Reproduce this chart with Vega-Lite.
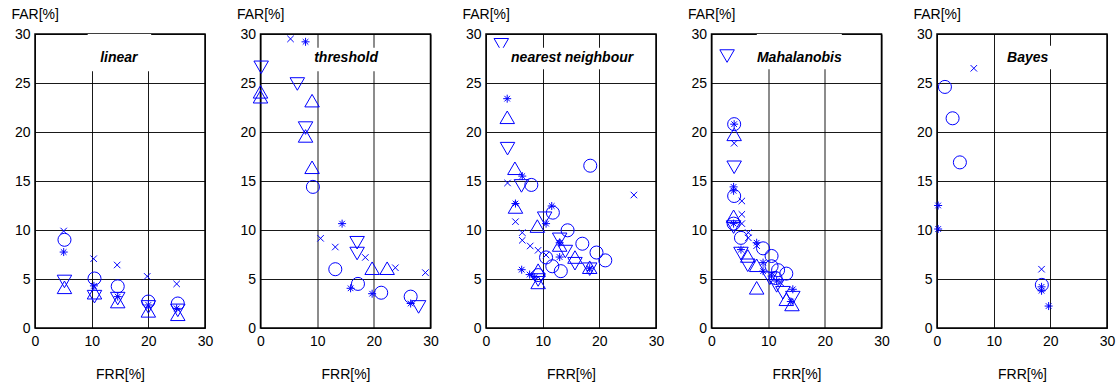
{
  "$schema": "https://vega.github.io/schema/vega-lite/v6.json",
  "background": "white",
  "padding": {"left": 10, "top": 6, "right": 0, "bottom": 5},
  "bounds": "flush",
  "spacing": 55.5,
  "config": {
    "font": "Liberation Sans",
    "view": {"stroke": "#000", "strokeWidth": 1.5},
    "axis": {"grid": true, "gridColor": "#000", "gridWidth": 1, "gridOpacity": 0.9, "domain": false, "ticks": false,
      "labelFont": "Liberation Sans", "labelFontSize": 14, "labelColor": "#000", "labelFlush": false, "labelOverlap": false,
      "titleFont": "Liberation Sans", "titleFontSize": 14, "titleFontWeight": "normal", "titleColor": "#000"},
    "axisX": {"labelPadding": 6, "titleY": 46, "titleBaseline": "middle"},
    "axisY": {"labelPadding": 5, "titleAngle": 0, "titleAlign": "left", "titleBaseline": "middle", "titleX": -24, "titleY": -20}
  },
  "datasets": {
    "pts": [
      {"p": "linear", "m": "x", "x": 5.06, "y": 9.9},
      {"p": "linear", "m": "x", "x": 10.35, "y": 7.07},
      {"p": "linear", "m": "x", "x": 14.5, "y": 6.43},
      {"p": "linear", "m": "x", "x": 19.8, "y": 5.27},
      {"p": "linear", "m": "x", "x": 25.0, "y": 4.5},
      {"p": "linear", "m": "o", "x": 5.2, "y": 9.0},
      {"p": "linear", "m": "o", "x": 10.5, "y": 5.05},
      {"p": "linear", "m": "o", "x": 14.6, "y": 4.25},
      {"p": "linear", "m": "o", "x": 20.0, "y": 2.7},
      {"p": "linear", "m": "o", "x": 25.2, "y": 2.5},
      {"p": "linear", "m": "s", "x": 5.06, "y": 7.75},
      {"p": "linear", "m": "s", "x": 10.4, "y": 4.3},
      {"p": "linear", "m": "s", "x": 14.6, "y": 3.2},
      {"p": "linear", "m": "s", "x": 20.0, "y": 2.35},
      {"p": "linear", "m": "s", "x": 25.0, "y": 2.0},
      {"p": "linear", "m": "d", "x": 5.2, "y": 4.75},
      {"p": "linear", "m": "d", "x": 10.5, "y": 3.2},
      {"p": "linear", "m": "d", "x": 14.6, "y": 3.0},
      {"p": "linear", "m": "d", "x": 20.0, "y": 2.15},
      {"p": "linear", "m": "d", "x": 25.2, "y": 1.8},
      {"p": "linear", "m": "u", "x": 5.2, "y": 4.15},
      {"p": "linear", "m": "u", "x": 10.5, "y": 3.6},
      {"p": "linear", "m": "u", "x": 14.6, "y": 2.7},
      {"p": "linear", "m": "u", "x": 20.0, "y": 1.75},
      {"p": "linear", "m": "u", "x": 25.2, "y": 1.4},

      {"p": "threshold", "m": "x", "x": 5.3, "y": 29.5},
      {"p": "threshold", "m": "x", "x": 10.6, "y": 9.15},
      {"p": "threshold", "m": "x", "x": 13.2, "y": 8.26},
      {"p": "threshold", "m": "x", "x": 18.5, "y": 7.2},
      {"p": "threshold", "m": "x", "x": 23.8, "y": 6.15},
      {"p": "threshold", "m": "x", "x": 29.1, "y": 5.65},
      {"p": "threshold", "m": "s", "x": 7.95, "y": 29.2},
      {"p": "threshold", "m": "s", "x": 14.4, "y": 10.65},
      {"p": "threshold", "m": "s", "x": 15.9, "y": 4.05},
      {"p": "threshold", "m": "s", "x": 19.7, "y": 3.5},
      {"p": "threshold", "m": "s", "x": 26.5, "y": 2.5},
      {"p": "threshold", "m": "d", "x": 0.12, "y": 26.6},
      {"p": "threshold", "m": "d", "x": 6.5, "y": 24.9},
      {"p": "threshold", "m": "d", "x": 7.95, "y": 20.4},
      {"p": "threshold", "m": "d", "x": 17.05, "y": 8.7},
      {"p": "threshold", "m": "d", "x": 17.05, "y": 7.6},
      {"p": "threshold", "m": "d", "x": 27.9, "y": 2.15},
      {"p": "threshold", "m": "u", "x": 0.0, "y": 24.1},
      {"p": "threshold", "m": "u", "x": 0.0, "y": 23.6},
      {"p": "threshold", "m": "u", "x": 9.1, "y": 23.2},
      {"p": "threshold", "m": "u", "x": 7.95, "y": 19.6},
      {"p": "threshold", "m": "u", "x": 9.1, "y": 16.4},
      {"p": "threshold", "m": "u", "x": 19.7, "y": 6.1},
      {"p": "threshold", "m": "u", "x": 22.35, "y": 6.1},
      {"p": "threshold", "m": "o", "x": 9.25, "y": 14.4},
      {"p": "threshold", "m": "o", "x": 13.2, "y": 6.0},
      {"p": "threshold", "m": "o", "x": 17.2, "y": 4.5},
      {"p": "threshold", "m": "o", "x": 21.3, "y": 3.6},
      {"p": "threshold", "m": "o", "x": 26.5, "y": 3.2},

      {"p": "nearest neighbour", "m": "d", "x": 2.7, "y": 28.9},
      {"p": "nearest neighbour", "m": "d", "x": 3.8, "y": 18.3},
      {"p": "nearest neighbour", "m": "d", "x": 6.26, "y": 14.5},
      {"p": "nearest neighbour", "m": "d", "x": 10.35, "y": 11.2},
      {"p": "nearest neighbour", "m": "d", "x": 13.0, "y": 9.05},
      {"p": "nearest neighbour", "m": "d", "x": 14.0, "y": 7.8},
      {"p": "nearest neighbour", "m": "d", "x": 15.7, "y": 6.56},
      {"p": "nearest neighbour", "m": "d", "x": 18.3, "y": 6.0},
      {"p": "nearest neighbour", "m": "d", "x": 9.2, "y": 4.9},
      {"p": "nearest neighbour", "m": "u", "x": 3.75, "y": 21.5},
      {"p": "nearest neighbour", "m": "u", "x": 5.1, "y": 16.3},
      {"p": "nearest neighbour", "m": "u", "x": 5.2, "y": 12.35},
      {"p": "nearest neighbour", "m": "u", "x": 9.06, "y": 10.4},
      {"p": "nearest neighbour", "m": "u", "x": 13.0, "y": 8.47},
      {"p": "nearest neighbour", "m": "u", "x": 15.7, "y": 7.24},
      {"p": "nearest neighbour", "m": "u", "x": 18.3, "y": 6.2},
      {"p": "nearest neighbour", "m": "u", "x": 9.2, "y": 5.9},
      {"p": "nearest neighbour", "m": "u", "x": 9.2, "y": 4.65},
      {"p": "nearest neighbour", "m": "s", "x": 3.74, "y": 23.4},
      {"p": "nearest neighbour", "m": "s", "x": 6.4, "y": 15.5},
      {"p": "nearest neighbour", "m": "s", "x": 5.2, "y": 12.7},
      {"p": "nearest neighbour", "m": "s", "x": 11.6, "y": 12.45},
      {"p": "nearest neighbour", "m": "s", "x": 10.6, "y": 10.65},
      {"p": "nearest neighbour", "m": "s", "x": 13.0, "y": 8.7},
      {"p": "nearest neighbour", "m": "s", "x": 13.0, "y": 7.24},
      {"p": "nearest neighbour", "m": "s", "x": 18.3, "y": 6.1},
      {"p": "nearest neighbour", "m": "s", "x": 6.3, "y": 5.95},
      {"p": "nearest neighbour", "m": "s", "x": 7.7, "y": 5.45},
      {"p": "nearest neighbour", "m": "s", "x": 8.6, "y": 5.2},
      {"p": "nearest neighbour", "m": "x", "x": 3.8, "y": 14.8},
      {"p": "nearest neighbour", "m": "x", "x": 26.1, "y": 13.57},
      {"p": "nearest neighbour", "m": "x", "x": 5.2, "y": 10.85},
      {"p": "nearest neighbour", "m": "x", "x": 6.4, "y": 9.73},
      {"p": "nearest neighbour", "m": "x", "x": 6.4, "y": 8.95},
      {"p": "nearest neighbour", "m": "x", "x": 7.8, "y": 8.37},
      {"p": "nearest neighbour", "m": "x", "x": 9.2, "y": 7.93},
      {"p": "nearest neighbour", "m": "x", "x": 10.6, "y": 7.45},
      {"p": "nearest neighbour", "m": "x", "x": 18.3, "y": 6.0},
      {"p": "nearest neighbour", "m": "o", "x": 8.0, "y": 14.6},
      {"p": "nearest neighbour", "m": "o", "x": 18.4, "y": 16.56},
      {"p": "nearest neighbour", "m": "o", "x": 11.8, "y": 11.77},
      {"p": "nearest neighbour", "m": "o", "x": 14.4, "y": 9.97},
      {"p": "nearest neighbour", "m": "o", "x": 17.0, "y": 8.6},
      {"p": "nearest neighbour", "m": "o", "x": 19.5, "y": 7.7},
      {"p": "nearest neighbour", "m": "o", "x": 21.05, "y": 6.9},
      {"p": "nearest neighbour", "m": "o", "x": 10.6, "y": 7.2},
      {"p": "nearest neighbour", "m": "o", "x": 11.7, "y": 6.3},
      {"p": "nearest neighbour", "m": "o", "x": 13.2, "y": 5.8},
      {"p": "nearest neighbour", "m": "o", "x": 9.2, "y": 5.4},

      {"p": "Mahalanobis", "m": "d", "x": 2.75, "y": 27.75},
      {"p": "Mahalanobis", "m": "d", "x": 4.0, "y": 16.4},
      {"p": "Mahalanobis", "m": "d", "x": 3.9, "y": 10.3},
      {"p": "Mahalanobis", "m": "d", "x": 5.2, "y": 7.6},
      {"p": "Mahalanobis", "m": "d", "x": 6.4, "y": 6.4},
      {"p": "Mahalanobis", "m": "d", "x": 10.3, "y": 5.07},
      {"p": "Mahalanobis", "m": "d", "x": 11.5, "y": 4.3},
      {"p": "Mahalanobis", "m": "d", "x": 12.6, "y": 3.6},
      {"p": "Mahalanobis", "m": "d", "x": 14.35, "y": 3.1},
      {"p": "Mahalanobis", "m": "u", "x": 4.0, "y": 19.76},
      {"p": "Mahalanobis", "m": "u", "x": 3.9, "y": 11.4},
      {"p": "Mahalanobis", "m": "u", "x": 6.4, "y": 7.35},
      {"p": "Mahalanobis", "m": "u", "x": 7.97, "y": 6.4},
      {"p": "Mahalanobis", "m": "u", "x": 7.97, "y": 4.1},
      {"p": "Mahalanobis", "m": "u", "x": 13.2, "y": 2.93},
      {"p": "Mahalanobis", "m": "u", "x": 14.2, "y": 2.4},
      {"p": "Mahalanobis", "m": "o", "x": 4.0, "y": 20.8},
      {"p": "Mahalanobis", "m": "o", "x": 4.0, "y": 13.47},
      {"p": "Mahalanobis", "m": "o", "x": 3.9, "y": 10.65},
      {"p": "Mahalanobis", "m": "o", "x": 5.2, "y": 9.2},
      {"p": "Mahalanobis", "m": "o", "x": 9.1, "y": 8.13},
      {"p": "Mahalanobis", "m": "o", "x": 10.6, "y": 7.35},
      {"p": "Mahalanobis", "m": "o", "x": 10.6, "y": 6.3},
      {"p": "Mahalanobis", "m": "o", "x": 11.75, "y": 5.9},
      {"p": "Mahalanobis", "m": "o", "x": 13.2, "y": 5.55},
      {"p": "Mahalanobis", "m": "o", "x": 11.3, "y": 5.1},
      {"p": "Mahalanobis", "m": "s", "x": 4.0, "y": 20.8},
      {"p": "Mahalanobis", "m": "s", "x": 3.9, "y": 14.4},
      {"p": "Mahalanobis", "m": "s", "x": 3.9, "y": 14.0},
      {"p": "Mahalanobis", "m": "s", "x": 3.9, "y": 10.65},
      {"p": "Mahalanobis", "m": "s", "x": 5.2, "y": 8.0},
      {"p": "Mahalanobis", "m": "s", "x": 7.97, "y": 8.7},
      {"p": "Mahalanobis", "m": "s", "x": 9.1, "y": 6.67},
      {"p": "Mahalanobis", "m": "s", "x": 9.1, "y": 5.8},
      {"p": "Mahalanobis", "m": "s", "x": 10.6, "y": 5.3},
      {"p": "Mahalanobis", "m": "s", "x": 11.5, "y": 4.8},
      {"p": "Mahalanobis", "m": "s", "x": 14.35, "y": 3.95},
      {"p": "Mahalanobis", "m": "s", "x": 14.0, "y": 2.7},
      {"p": "Mahalanobis", "m": "x", "x": 4.0, "y": 18.85},
      {"p": "Mahalanobis", "m": "x", "x": 5.35, "y": 12.96},
      {"p": "Mahalanobis", "m": "x", "x": 5.35, "y": 11.6},
      {"p": "Mahalanobis", "m": "x", "x": 5.35, "y": 10.65},
      {"p": "Mahalanobis", "m": "x", "x": 6.5, "y": 9.73},
      {"p": "Mahalanobis", "m": "x", "x": 6.5, "y": 9.2},
      {"p": "Mahalanobis", "m": "x", "x": 7.97, "y": 8.4},
      {"p": "Mahalanobis", "m": "x", "x": 12.2, "y": 4.6},

      {"p": "Bayes", "m": "x", "x": 6.5, "y": 26.5},
      {"p": "Bayes", "m": "x", "x": 18.45, "y": 6.0},
      {"p": "Bayes", "m": "o", "x": 1.4, "y": 24.6},
      {"p": "Bayes", "m": "o", "x": 2.75, "y": 21.4},
      {"p": "Bayes", "m": "o", "x": 4.04, "y": 16.9},
      {"p": "Bayes", "m": "o", "x": 18.5, "y": 4.4},
      {"p": "Bayes", "m": "s", "x": 0.2, "y": 12.5},
      {"p": "Bayes", "m": "s", "x": 0.2, "y": 10.1},
      {"p": "Bayes", "m": "s", "x": 18.45, "y": 4.2},
      {"p": "Bayes", "m": "s", "x": 18.45, "y": 3.8},
      {"p": "Bayes", "m": "s", "x": 19.7, "y": 2.24}
    ]
  },
  "hconcat": [
    {
      "width": 170, "height": 294,
      "layer": [
        {"data": {"name": "pts"}, "transform": [{"filter": "datum.p === 'linear'"}],
         "mark": {"type": "point", "filled": false, "strokeWidth": 1, "color": "#0000ff", "opacity": 1},
         "encoding": {
           "x": {"field": "x", "type": "quantitative", "scale": {"domain": [0, 30], "nice": false}, "axis": {"values": [0, 10, 20, 30], "title": "FRR[%]"}},
           "y": {"field": "y", "type": "quantitative", "scale": {"domain": [0, 30], "nice": false}, "axis": {"values": [0, 5, 10, 15, 20, 25, 30], "title": "FAR[%]"}},
           "shape": {"field": "m", "type": "nominal", "legend": null, "scale": {"domain": ["u", "d", "o", "x", "s"], "range": ["triangle-up", "triangle-down", "circle", "M-1,-1L1,1M-1,1L1,-1", "M-1,0L1,0M0,-1L0,1M-0.7,-0.7L0.7,0.7M-0.7,0.7L0.7,-0.7"]}},
           "size": {"field": "m", "type": "nominal", "legend": null, "scale": {"type": "ordinal", "domain": ["u", "d", "o", "x", "s"], "range": [210, 210, 170, 42, 64]}}
         }},
        {"data": {"values": [{}]}, "mark": {"type": "rect", "color": "white"},
         "encoding": {"x": {"datum": 9.3}, "x2": {"datum": 20.5}, "y": {"datum": 26.2}, "y2": {"datum": 30}}},
        {"data": {"values": [{}]}, "mark": {"type": "text", "fontStyle": "italic", "fontWeight": "bold", "fontSize": 14, "color": "#000", "align": "center", "baseline": "middle"},
         "encoding": {"x": {"datum": 14.8}, "y": {"datum": 27.6}, "text": {"value": "linear"}}}
      ]
    },
    {
      "width": 170, "height": 294,
      "layer": [
        {"data": {"name": "pts"}, "transform": [{"filter": "datum.p === 'threshold'"}],
         "mark": {"type": "point", "filled": false, "strokeWidth": 1, "color": "#0000ff", "opacity": 1},
         "encoding": {
           "x": {"field": "x", "type": "quantitative", "scale": {"domain": [0, 30], "nice": false}, "axis": {"values": [0, 10, 20, 30], "title": "FRR[%]"}},
           "y": {"field": "y", "type": "quantitative", "scale": {"domain": [0, 30], "nice": false}, "axis": {"values": [0, 5, 10, 15, 20, 25, 30], "title": "FAR[%]"}},
           "shape": {"field": "m", "type": "nominal", "legend": null, "scale": {"domain": ["u", "d", "o", "x", "s"], "range": ["triangle-up", "triangle-down", "circle", "M-1,-1L1,1M-1,1L1,-1", "M-1,0L1,0M0,-1L0,1M-0.7,-0.7L0.7,0.7M-0.7,0.7L0.7,-0.7"]}},
           "size": {"field": "m", "type": "nominal", "legend": null, "scale": {"type": "ordinal", "domain": ["u", "d", "o", "x", "s"], "range": [210, 210, 170, 42, 64]}}
         }},
        {"data": {"values": [{}]}, "mark": {"type": "rect", "color": "white"},
         "encoding": {"x": {"datum": 9.3}, "x2": {"datum": 21}, "y": {"datum": 26.2}, "y2": {"datum": 28.6}}},
        {"data": {"values": [{}]}, "mark": {"type": "text", "fontStyle": "italic", "fontWeight": "bold", "fontSize": 14, "color": "#000", "align": "center", "baseline": "middle"},
         "encoding": {"x": {"datum": 15.1}, "y": {"datum": 27.6}, "text": {"value": "threshold"}}}
      ]
    },
    {
      "width": 170, "height": 294,
      "layer": [
        {"data": {"name": "pts"}, "transform": [{"filter": "datum.p === 'nearest neighbour'"}],
         "mark": {"type": "point", "filled": false, "strokeWidth": 1, "color": "#0000ff", "opacity": 1},
         "encoding": {
           "x": {"field": "x", "type": "quantitative", "scale": {"domain": [0, 30], "nice": false}, "axis": {"values": [0, 10, 20, 30], "title": "FRR[%]"}},
           "y": {"field": "y", "type": "quantitative", "scale": {"domain": [0, 30], "nice": false}, "axis": {"values": [0, 5, 10, 15, 20, 25, 30], "title": "FAR[%]"}},
           "shape": {"field": "m", "type": "nominal", "legend": null, "scale": {"domain": ["u", "d", "o", "x", "s"], "range": ["triangle-up", "triangle-down", "circle", "M-1,-1L1,1M-1,1L1,-1", "M-1,0L1,0M0,-1L0,1M-0.7,-0.7L0.7,0.7M-0.7,0.7L0.7,-0.7"]}},
           "size": {"field": "m", "type": "nominal", "legend": null, "scale": {"type": "ordinal", "domain": ["u", "d", "o", "x", "s"], "range": [210, 210, 170, 42, 64]}}
         }},
        {"data": {"values": [{}]}, "mark": {"type": "rect", "color": "white"},
         "encoding": {"x": {"datum": 1.0}, "x2": {"datum": 27}, "y": {"datum": 26.4}, "y2": {"datum": 28.6}}},
        {"data": {"values": [{}]}, "mark": {"type": "text", "fontStyle": "italic", "fontWeight": "bold", "fontSize": 14, "color": "#000", "align": "center", "baseline": "middle"},
         "encoding": {"x": {"datum": 15.2}, "y": {"datum": 27.6}, "text": {"value": "nearest neighbour"}}}
      ]
    },
    {
      "width": 170, "height": 294,
      "layer": [
        {"data": {"name": "pts"}, "transform": [{"filter": "datum.p === 'Mahalanobis'"}],
         "mark": {"type": "point", "filled": false, "strokeWidth": 1, "color": "#0000ff", "opacity": 1},
         "encoding": {
           "x": {"field": "x", "type": "quantitative", "scale": {"domain": [0, 30], "nice": false}, "axis": {"values": [0, 10, 20, 30], "title": "FRR[%]"}},
           "y": {"field": "y", "type": "quantitative", "scale": {"domain": [0, 30], "nice": false}, "axis": {"values": [0, 5, 10, 15, 20, 25, 30], "title": "FAR[%]"}},
           "shape": {"field": "m", "type": "nominal", "legend": null, "scale": {"domain": ["u", "d", "o", "x", "s"], "range": ["triangle-up", "triangle-down", "circle", "M-1,-1L1,1M-1,1L1,-1", "M-1,0L1,0M0,-1L0,1M-0.7,-0.7L0.7,0.7M-0.7,0.7L0.7,-0.7"]}},
           "size": {"field": "m", "type": "nominal", "legend": null, "scale": {"type": "ordinal", "domain": ["u", "d", "o", "x", "s"], "range": [210, 210, 170, 42, 64]}}
         }},
        {"data": {"values": [{}]}, "mark": {"type": "rect", "color": "white"},
         "encoding": {"x": {"datum": 8.0}, "x2": {"datum": 23}, "y": {"datum": 26.4}, "y2": {"datum": 30}}},
        {"data": {"values": [{}]}, "mark": {"type": "text", "fontStyle": "italic", "fontWeight": "bold", "fontSize": 14, "color": "#000", "align": "center", "baseline": "middle"},
         "encoding": {"x": {"datum": 15.5}, "y": {"datum": 27.6}, "text": {"value": "Mahalanobis"}}}
      ]
    },
    {
      "width": 170, "height": 294,
      "layer": [
        {"data": {"name": "pts"}, "transform": [{"filter": "datum.p === 'Bayes'"}],
         "mark": {"type": "point", "filled": false, "strokeWidth": 1, "color": "#0000ff", "opacity": 1},
         "encoding": {
           "x": {"field": "x", "type": "quantitative", "scale": {"domain": [0, 30], "nice": false}, "axis": {"values": [0, 10, 20, 30], "title": "FRR[%]"}},
           "y": {"field": "y", "type": "quantitative", "scale": {"domain": [0, 30], "nice": false}, "axis": {"values": [0, 5, 10, 15, 20, 25, 30], "title": "FAR[%]"}},
           "shape": {"field": "m", "type": "nominal", "legend": null, "scale": {"domain": ["u", "d", "o", "x", "s"], "range": ["triangle-up", "triangle-down", "circle", "M-1,-1L1,1M-1,1L1,-1", "M-1,0L1,0M0,-1L0,1M-0.7,-0.7L0.7,0.7M-0.7,0.7L0.7,-0.7"]}},
           "size": {"field": "m", "type": "nominal", "legend": null, "scale": {"type": "ordinal", "domain": ["u", "d", "o", "x", "s"], "range": [210, 210, 170, 42, 64]}}
         }},
        {"data": {"values": [{}]}, "mark": {"type": "rect", "color": "white"},
         "encoding": {"x": {"datum": 12.0}, "x2": {"datum": 21}, "y": {"datum": 26.4}, "y2": {"datum": 28.8}}},
        {"data": {"values": [{}]}, "mark": {"type": "text", "fontStyle": "italic", "fontWeight": "bold", "fontSize": 14, "color": "#000", "align": "center", "baseline": "middle"},
         "encoding": {"x": {"datum": 16.0}, "y": {"datum": 27.6}, "text": {"value": "Bayes"}}}
      ]
    }
  ]
}
